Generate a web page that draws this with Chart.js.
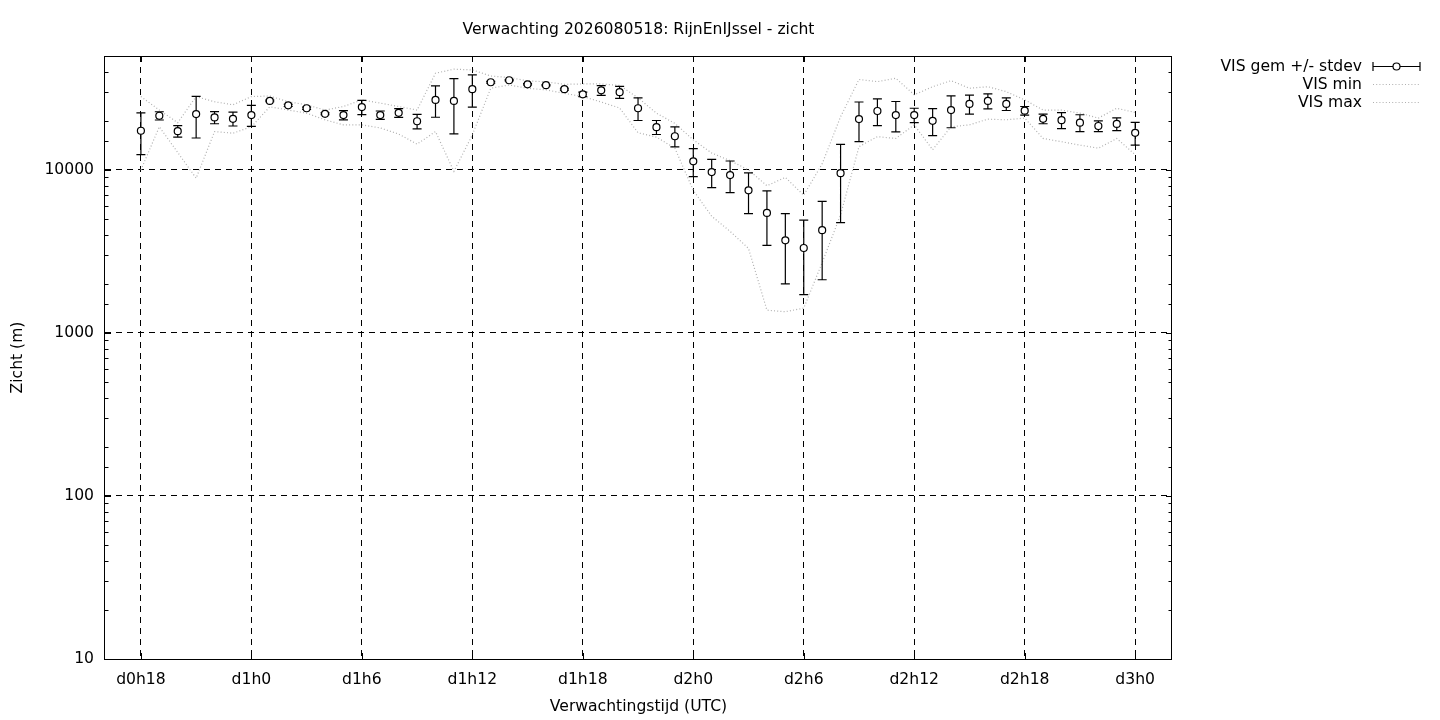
<!DOCTYPE html>
<html>
<head>
<meta charset="utf-8">
<script src="https://cdn.jsdelivr.net/npm/chart.js@4.4.1/dist/chart.umd.min.js"></script>
<style>
  html, body { margin: 0; padding: 0; background: #fff; }
  #wrap { width: 1440px; height: 720px; }
</style>
</head>
<body>
<div id="wrap"><canvas id="visChart" width="1440" height="720"></canvas></div>
<script>
// forecast hour (from d0h0)
const hours = [18, 19, 20, 21, 22, 23, 24, 25, 26, 27, 28, 29, 30, 31, 32, 33, 34, 35, 36,
  37, 38, 39, 40, 41, 42, 43, 44, 45, 46, 47, 48, 49, 50, 51, 52, 53, 54, 55, 56,
  57, 58, 59, 60, 61, 62, 63, 64, 65, 66, 67, 68, 69, 70, 71, 72];

// visibility (m)
const visMean = [17400, 21500, 17300, 22000, 21000, 20600, 21700, 26500, 24900, 23900, 22100, 21700, 24300, 21700, 22400, 19900, 26900, 26500, 31300,
  34500, 35500, 33500, 33100, 31300, 29100, 30800, 30000, 23900, 18300, 16100, 11300, 9700, 9300, 7500, 5450, 3700, 3320, 4270, 9550,
  20500, 23000, 21700, 21700, 20000, 23300, 25400, 26500, 25400, 23100, 20600, 20200, 19500, 18600, 19150, 16900];
const visStd = [5000, 1250, 1400, 6300, 1800, 2000, 3200, 300, 400, 400, 300, 1400, 2450, 1300, 1400, 2050, 5850, 9850, 7000,
  400, 300, 300, 300, 400, 900, 2150, 2550, 3800, 1800, 2250, 2200, 1900, 2050, 2100, 2000, 1700, 1600, 2150, 4800,
  5600, 4300, 4600, 2200, 3750, 5150, 3400, 2800, 2250, 1400, 1400, 2250, 2300, 1400, 1700, 2700];
const visMin = [10000, 18400, 12800, 8900, 17200, 16800, 18400, 24400, 23300, 22300, 20300, 18900, 18900, 18100, 16600, 14400, 17200, 9800, 16400,
  31700, 33200, 31700, 31000, 29500, 28200, 26100, 24000, 16900, 15900, 13600, 7500, 5200, 4200, 3300, 1380, 1350, 1420, 2700, 5300,
  13900, 16000, 15600, 18900, 13300, 18400, 18900, 20500, 20300, 20800, 15600, 14900, 14200, 13600, 15600, 12400];
const visMax = [28200, 23300, 19500, 28200, 26200, 25100, 28200, 28400, 26200, 25100, 23300, 24500, 26900, 25700, 24500, 23300, 39200, 41500, 41100,
  37700, 36900, 35200, 34700, 33500, 33700, 33700, 33000, 27700, 22300, 19300, 15300, 12700, 11400, 10000, 8000, 9000, 7000, 10900, 21200,
  35900, 34800, 36500, 28900, 32400, 35300, 31700, 32400, 30200, 26900, 23300, 23300, 22300, 20800, 23900, 22500];

const xTickVals = [18, 24, 30, 36, 42, 48, 54, 60, 66, 72];
const xTickLabels = ['d0h18', 'd1h0', 'd1h6', 'd1h12', 'd1h18', 'd2h0', 'd2h6', 'd2h12', 'd2h18', 'd3h0'];
const yLabels = [10, 100, 1000, 10000];
const chartTitle = 'Verwachting 2026080518: RijnEnIJssel - zicht';

const FONT = "'DejaVu Sans', sans-serif";
const FSIZE = 15.6;
Chart.defaults.font.family = FONT;
Chart.defaults.font.size = FSIZE;
Chart.defaults.color = '#000';

const pts = arr => hours.map((h, i) => ({ x: h, y: arr[i] }));

// mean +/- stdev bars, drawn under the circles
const errorBars = {
  id: 'errorBars',
  beforeDatasetDraw(chart, args) {
    if (args.index !== 0) return;
    const xs = chart.scales.x, ys = chart.scales.y, ctx = chart.ctx;
    ctx.save();
    ctx.strokeStyle = '#000';
    ctx.lineWidth = 1.2;
    ctx.beginPath();
    visMean.forEach((m, i) => {
      const x = xs.getPixelForValue(hours[i]);
      const top = ys.getPixelForValue(m + visStd[i]);
      const bot = ys.getPixelForValue(m - visStd[i]);
      ctx.moveTo(x, top); ctx.lineTo(x, bot);
      ctx.moveTo(x - 4.5, top); ctx.lineTo(x + 4.5, top);
      ctx.moveTo(x - 4.5, bot); ctx.lineTo(x + 4.5, bot);
    });
    ctx.stroke();
    ctx.restore();
  }
};

// gnuplot style frame with inward ticks, and the title centred on the plot
const frameTicks = {
  id: 'frameTicks',
  afterDatasetsDraw(chart) {
    const { ctx, chartArea: a, scales: { x, y } } = chart;
    ctx.save();
    ctx.strokeStyle = '#000';
    ctx.lineWidth = 1;
    ctx.beginPath();
    y.ticks.forEach(t => {
      const py = Math.round(y.getPixelForValue(t.value)) + 0.5;
      const len = yLabels.includes(t.value) ? 6 : 3.5;
      ctx.moveTo(a.left, py); ctx.lineTo(a.left + len, py);
      ctx.moveTo(a.right, py); ctx.lineTo(a.right - len, py);
    });
    x.ticks.forEach(t => {
      const px = Math.round(x.getPixelForValue(t.value)) + 0.5;
      ctx.moveTo(px, a.bottom); ctx.lineTo(px, a.bottom - 6);
      ctx.moveTo(px, a.top); ctx.lineTo(px, a.top + 6);
    });
    ctx.stroke();
    ctx.strokeRect(Math.round(a.left) - 0.5, Math.round(a.top) + 0.5,
      Math.round(a.right - a.left), Math.round(a.bottom - a.top));

    ctx.fillStyle = '#000';
    ctx.font = FSIZE + 'px ' + FONT;
    ctx.textAlign = 'center';
    ctx.textBaseline = 'middle';
    ctx.fillText(chartTitle, (a.left + a.right) / 2, 29.5);
    ctx.restore();
  }
};

// key outside the plot, right aligned text with sample on the right
const sideLegend = {
  id: 'sideLegend',
  afterDraw(chart) {
    const ctx = chart.ctx;
    const x0 = 1373, x1 = 1420;
    ctx.save();
    ctx.font = FSIZE + 'px ' + FONT;
    ctx.textAlign = 'right';
    ctx.textBaseline = 'middle';
    chart.data.datasets.forEach((ds, i) => {
      const yy = 66.5 + i * 18.3;
      ctx.fillStyle = '#000';
      ctx.fillText(ds.label, 1362, yy);
      ctx.beginPath();
      if (i === 0) {
        const py = Math.round(yy) - 0.5;
        ctx.strokeStyle = '#000';
        ctx.lineWidth = 1.2;
        ctx.moveTo(x0, py); ctx.lineTo(x1, py);
        ctx.moveTo(x0, py - 4.5); ctx.lineTo(x0, py + 4.5);
        ctx.moveTo(x1, py - 4.5); ctx.lineTo(x1, py + 4.5);
        ctx.stroke();
        ctx.beginPath();
        ctx.fillStyle = '#fff';
        ctx.arc((x0 + x1) / 2, py, 3.5, 0, Math.PI * 2);
        ctx.fill();
        ctx.stroke();
      } else {
        ctx.strokeStyle = ds.borderColor;
        ctx.lineWidth = ds.borderWidth;
        ctx.setLineDash(ds.borderDash);
        ctx.moveTo(x0, Math.round(yy) - 0.5); ctx.lineTo(x1, Math.round(yy) - 0.5);
        ctx.stroke();
        ctx.setLineDash([]);
      }
    });
    ctx.restore();
  }
};

new Chart(document.getElementById('visChart').getContext('2d'), {
  type: 'line',
  data: {
    datasets: [
      {
        label: 'VIS gem +/- stdev',
        data: pts(visMean),
        showLine: false,
        pointStyle: 'circle',
        pointRadius: 3.5,
        pointBorderWidth: 1.2,
        pointBorderColor: '#000',
        pointBackgroundColor: '#fff',
        order: 0
      },
      {
        label: 'VIS min',
        data: pts(visMin),
        borderColor: '#b0b0b0',
        borderWidth: 1.2,
        borderDash: [1, 2.2],
        pointRadius: 0,
        fill: false,
        tension: 0,
        order: 1
      },
      {
        label: 'VIS max',
        data: pts(visMax),
        borderColor: '#b0b0b0',
        borderWidth: 1.2,
        borderDash: [1, 2.2],
        pointRadius: 0,
        fill: false,
        tension: 0,
        order: 2
      }
    ]
  },
  options: {
    responsive: false,
    animation: false,
    devicePixelRatio: 1,
    events: [],
    layout: { padding: { left: 0, right: 268, top: 56, bottom: 0 } },
    plugins: {
      legend: { display: false },
      tooltip: { enabled: false },
      title: { display: false }
    },
    scales: {
      x: {
        type: 'linear',
        min: 16.05,
        max: 74,
        afterBuildTicks: s => { s.ticks = xTickVals.map(v => ({ value: v })); },
        afterFit: s => { s.height = 61; },
        ticks: {
          autoSkip: false,
          maxRotation: 0,
          padding: 12,
          callback: v => xTickLabels[xTickVals.indexOf(v)]
        },
        grid: { color: '#000', lineWidth: 1, drawTicks: false },
        border: { display: false, dash: [6, 5] },
        title: { display: true, text: 'Verwachtingstijd (UTC)', padding: { top: 0, bottom: 4 } }
      },
      y: {
        type: 'logarithmic',
        min: 10,
        max: 50000,
        afterFit: s => { s.width = 105; },
        ticks: {
          autoSkip: false,
          padding: 11,
          callback: v => yLabels.includes(v) ? String(v) : ''
        },
        grid: {
          color: c => yLabels.includes(c.tick.value) ? '#000' : 'rgba(0,0,0,0)',
          lineWidth: 1,
          drawTicks: false
        },
        border: { display: false, dash: [6, 5] },
        title: { display: true, text: 'Zicht (m)', padding: { top: 9, bottom: 0 } }
      }
    }
  },
  plugins: [errorBars, frameTicks, sideLegend]
});
</script>
</body>
</html>
